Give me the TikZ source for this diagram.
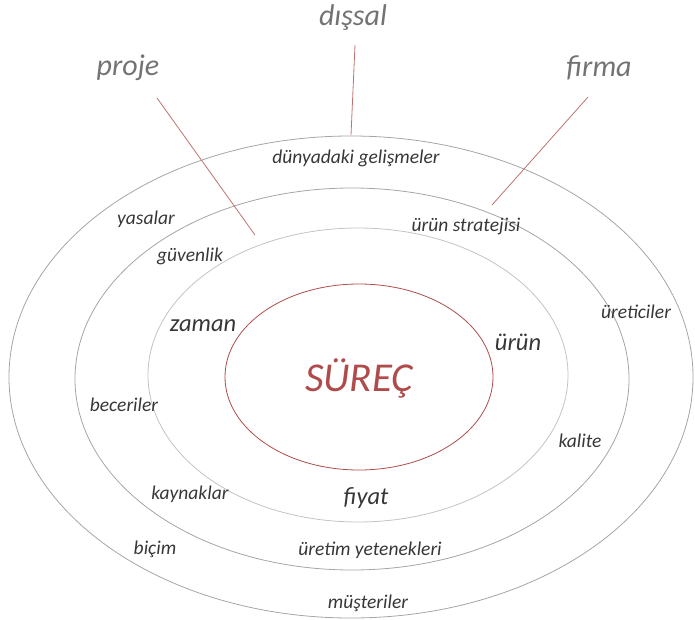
\documentclass[tikz,border=0pt]{standalone}
\usepackage{fontspec}
\setmainfont{Carlito}
\usetikzlibrary{shapes.geometric}
\definecolor{ringgray}{RGB}{165,165,165}
\definecolor{ringlight}{RGB}{195,195,195}
\definecolor{corered}{RGB}{175,75,75}
\definecolor{linkred}{RGB}{190,115,110}
\definecolor{txtdark}{RGB}{55,55,55}
\definecolor{txthead}{RGB}{115,115,115}
\tikzset{
  ring/.style={draw=ringgray, line width=0.8pt, ellipse, inner sep=0pt},
  lbl/.style={font=\fontsize{19.5}{23}\selectfont\itshape, text=txtdark, inner sep=0pt},
  mid/.style={font=\fontsize{24.5}{29}\selectfont\itshape, text=txtdark, inner sep=0pt},
  head/.style={font=\fontsize{30}{36}\selectfont\itshape, text=txthead, inner sep=0pt},
  link/.style={draw=linkred, line width=0.8pt}
}
\begin{document}
\begin{tikzpicture}[x=1pt,y=-1pt]
\useasboundingbox (0,0) rectangle (695,620);
% rings
\node[ring, minimum width=684pt, minimum height=482pt] (outer) at (351,377) {};
\node[ring, minimum width=554pt, minimum height=382pt] (second) at (352,379) {};
\node[ring, draw=ringlight, minimum width=420pt, minimum height=294pt] (third) at (358,375) {};
\node[ring, draw=corered, minimum width=268pt, minimum height=186pt] (core) at (359,377) {};
% headers
\node[head] (dissal) at (353,18) {dışsal};
\node[head] (proje) at (128,68) {proje};
\node[head] (firma) at (599,68) {firma};
% connector ends
\coordinate (d1) at (355,45);
\coordinate (d2) at (351,135);
\coordinate (p1) at (157,98);
\coordinate (p2) at (255,235);
\coordinate (f1) at (588,97);
\coordinate (f2) at (492,205);
\draw[link] (d1) -- (d2);
\draw[link] (p1) -- (p2);
\draw[link] (f1) -- (f2);
% core
\node[font=\fontsize{41}{46}\selectfont\itshape, text=corered, inner sep=0pt] (surec) at (359,378) {SÜREÇ};
% middle labels
\node[mid] (zaman) at (203,326) {zaman};
\node[mid] (urun) at (518,342) {ürün};
\node[mid] (fiyat) at (366,498) {fiyat};
% ring labels
\node[lbl] (dunya) at (356,158) {dünyadaki gelişmeler};
\node[lbl] (yasalar) at (146,219) {yasalar};
\node[lbl] (strateji) at (466,226) {ürün stratejisi};
\node[lbl] (guvenlik) at (190,256) {güvenlik};
\node[lbl] (ureticiler) at (636,312) {üreticiler};
\node[lbl] (beceriler) at (124,405) {beceriler};
\node[lbl] (kalite) at (580,441) {kalite};
\node[lbl] (kaynaklar) at (190,494) {kaynaklar};
\node[lbl] (bicim) at (155,549) {biçim};
\node[lbl] (uretim) at (370,550) {üretim yetenekleri};
\node[lbl] (musteriler) at (368,603) {müşteriler};
\end{tikzpicture}
\end{document}
